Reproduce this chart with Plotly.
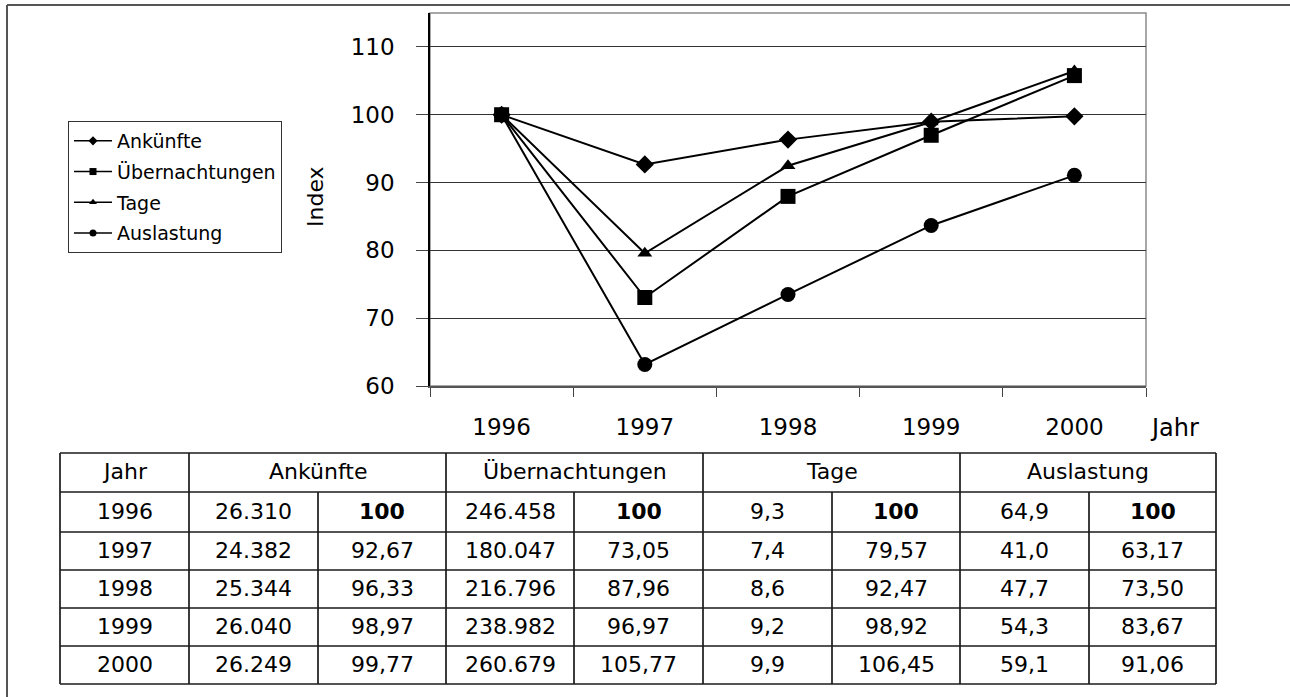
import plotly.graph_objects as go

# ---------------- data ----------------
years = ["1996", "1997", "1998", "1999", "2000"]
series_names = ["Ankünfte", "Übernachtungen", "Tage", "Auslastung"]

ankuenfte_abs = [26310, 24382, 25344, 26040, 26249]
ankuenfte_idx = [100, 92.67, 96.33, 98.97, 99.77]
uebern_abs = [246458, 180047, 216796, 238982, 260679]
uebern_idx = [100, 73.05, 87.96, 96.97, 105.77]
tage_abs = [9.3, 7.4, 8.6, 9.2, 9.9]
tage_idx = [100, 79.57, 92.47, 98.92, 106.45]
ausl_abs = [64.9, 41.0, 47.7, 54.3, 59.1]
ausl_idx = [100, 63.17, 73.50, 83.67, 91.06]

y_ticks = [60, 70, 80, 90, 100, 110]

# ---------------- style ----------------
FONT = "DejaVu Sans"
W, H = 1290, 697
PL, PR, PT, PB = 430, 1146, 13, 386  # plot area in pixels


def px(X):
    return (X - PL) / (PR - PL)


def py(Y):
    return (PB - Y) / (PB - PT)


symbols = ["diamond", "square", "triangle-up", "circle"]
msizes = [14, 15, 13, 15]
idx_series = [ankuenfte_idx, uebern_idx, tage_idx, ausl_idx]

fig = go.Figure()
for name, vals, sym, ms in zip(series_names, idx_series, symbols, msizes):
    fig.add_trace(go.Scatter(
        x=years, y=vals, mode="lines+markers", name=name, legendgroup=name,
        showlegend=False, line=dict(color="black", width=2),
        marker=dict(symbol=sym, size=ms, color="black"),
        hoverinfo="x+y",
    ))
# legend-only entries with small markers
for name, sym in zip(series_names, symbols):
    fig.add_trace(go.Scatter(
        x=[None], y=[None], mode="lines+markers", name=name, legendgroup=name,
        line=dict(color="black", width=1.5),
        marker=dict(symbol=sym, size=7, color="black"),
    ))

shapes = []
annotations = []

# plot-area frame (gray)
shapes.append(dict(type="rect", xref="paper", yref="paper", x0=0, x1=1, y0=0, y1=1,
                   line=dict(color="#8a8a8a", width=1.5), layer="below"))
# outer frame (top & left visible)
shapes.append(dict(type="line", xref="paper", yref="paper", x0=px(7), x1=px(1300),
                   y0=py(5), y1=py(5), line=dict(color="#555555", width=2)))
shapes.append(dict(type="line", xref="paper", yref="paper", x0=px(7), x1=px(7),
                   y0=py(5), y1=py(710), line=dict(color="#555555", width=2)))

# axis titles
annotations.append(dict(text="Index", xref="paper", yref="paper", x=px(315), y=py(197),
                        showarrow=False, textangle=-90, xanchor="center", yanchor="middle",
                        font=dict(family=FONT, size=22, color="black")))
annotations.append(dict(text="Jahr", xref="paper", yref="paper", x=px(1148), y=py(428),
                        showarrow=False, xanchor="left", yanchor="middle",
                        font=dict(family=FONT, size=24, color="black")))

# ---------------- table ----------------
col_x = [60, 189, 318, 446, 574, 703, 832, 960, 1089, 1216]
row_y = [453, 492, 532, 570, 608, 646, 684]
LC = "#1a1a1a"
LW = 1.7


def hline(x0, x1, y):
    shapes.append(dict(type="line", xref="paper", yref="paper", x0=px(x0), x1=px(x1),
                       y0=py(y), y1=py(y), line=dict(color=LC, width=LW)))


def vline(x, y0, y1):
    shapes.append(dict(type="line", xref="paper", yref="paper", x0=px(x), x1=px(x),
                       y0=py(y0), y1=py(y1), line=dict(color=LC, width=LW)))


for y in row_y:
    hline(col_x[0], col_x[-1], y)
for i, x in enumerate(col_x):
    if i in (2, 4, 6, 8):
        vline(x, row_y[1], row_y[-1])
    else:
        vline(x, row_y[0], row_y[-1])


def cell(text, c0, c1, r, bold=False):
    xc = (col_x[c0] + col_x[c1]) / 2
    yc = (row_y[r] + row_y[r + 1]) / 2 - 1
    annotations.append(dict(text=("<b>%s</b>" % text) if bold else text,
                            xref="paper", yref="paper", x=px(xc), y=py(yc),
                            showarrow=False, xanchor="center", yanchor="middle",
                            font=dict(family=FONT, size=22, color="black")))


def fmt_int(v):
    return "{:,}".format(v).replace(",", ".")


def fmt_dec(v, n):
    return ("{:.%df}" % n).format(v).replace(".", ",")


cell("Jahr", 0, 1, 0)
for k, name in enumerate(series_names):
    cell(name, 1 + 2 * k, 3 + 2 * k, 0)

abs_series = [ankuenfte_abs, uebern_abs, tage_abs, ausl_abs]
for r, yr in enumerate(years):
    cell(yr, 0, 1, r + 1)
    for k in range(4):
        a = abs_series[k][r]
        atxt = fmt_int(a) if k < 2 else fmt_dec(a, 1)
        cell(atxt, 1 + 2 * k, 2 + 2 * k, r + 1)
        iv = idx_series[k][r]
        if iv == 100:
            cell("100", 2 + 2 * k, 3 + 2 * k, r + 1, bold=True)
        else:
            cell(fmt_dec(iv, 2), 2 + 2 * k, 3 + 2 * k, r + 1)

fig.update_layout(
    width=W, height=H,
    margin=dict(l=PL, r=W - PR, t=PT, b=H - PB, pad=0),
    paper_bgcolor="white", plot_bgcolor="white",
    font=dict(family=FONT, color="black"),
    showlegend=True,
    legend=dict(x=px(68), y=py(121), xanchor="left", yanchor="top",
                bordercolor="#333333", borderwidth=1, bgcolor="white",
                font=dict(family=FONT, size=19, color="black"),
                tracegroupgap=3, itemwidth=38),
    xaxis=dict(type="category", categoryorder="array", categoryarray=years,
               range=[-0.5, 4.5], tickson="boundaries", ticks="outside", ticklen=9,
               tickcolor="#444444", showline=True, linecolor="#555555", linewidth=1.5,
               showgrid=False, zeroline=False, ticklabelstandoff=20,
               tickfont=dict(family=FONT, size=23, color="black")),
    yaxis=dict(range=[60, 115], tickvals=y_ticks, ticks="outside", ticklen=12,
               tickcolor="#444444", showline=True, linecolor="black", linewidth=1.5,
               showgrid=True, gridcolor="#333333", gridwidth=1, zeroline=False,
               ticklabelstandoff=17,
               tickfont=dict(family=FONT, size=23, color="black")),
    shapes=shapes,
    annotations=annotations,
)

fig.write_html("out.html", config={"displayModeBar": False},
               post_script="document.body.style.margin='0';")
